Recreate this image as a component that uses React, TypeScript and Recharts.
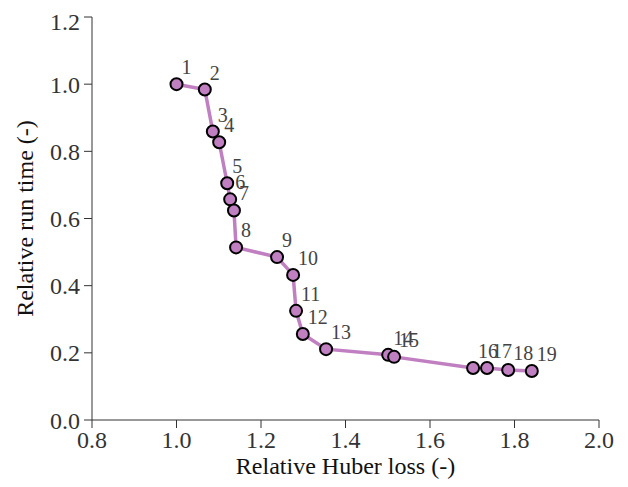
import React from 'react';
import { LineChart, Line, XAxis, YAxis, Label, LabelList } from 'recharts';

const pointLabels = ['1','2','3','4','5','6','7','8','9','10','11','12','13','14','15','16','17','18','19'];
const huberLoss = [1.0, 1.067, 1.086, 1.101, 1.12, 1.127, 1.136, 1.141, 1.238, 1.276, 1.283, 1.299, 1.354, 1.501, 1.515, 1.702, 1.735, 1.785, 1.841];
const runTime = [1.0, 0.984, 0.859, 0.827, 0.705, 0.657, 0.624, 0.514, 0.485, 0.432, 0.325, 0.256, 0.211, 0.194, 0.188, 0.155, 0.155, 0.149, 0.146];
const xTicks = [0.8, 1.0, 1.2, 1.4, 1.6, 1.8, 2.0];
const yTicks = [0.0, 0.2, 0.4, 0.6, 0.8, 1.0, 1.2];

const data = pointLabels.map((l, i) => ({ label: l, x: huberLoss[i], y: runTime[i] }));

const FONT = '"Liberation Serif", "DejaVu Serif", serif';
const LINE = '#c07fc0';
const AX = '#333333';

const PointLabel = (props: any) => {
  const { x, y, value } = props;
  return (
    <text x={x + 5} y={y - 10} fontFamily={FONT} fontSize={20} fill="#444" textAnchor="start">
      {value}
    </text>
  );
};

const XTitle = (props: any) => {
  const vb = props.viewBox || {};
  const cx = vb.x + vb.width / 2;
  const by = vb.y + vb.height - 13;
  return (
    <text x={cx} y={by} textAnchor="middle" fontFamily={FONT} fontSize={24} fill="#111">
      Relative Huber loss (-)
    </text>
  );
};

const YTitle = (props: any) => {
  const vb = props.viewBox || {};
  const cy = vb.y + vb.height / 2;
  const bx = 25;
  return (
    <text x={bx} y={cy} transform={`rotate(-90, ${bx}, ${cy})`} textAnchor="middle" fontFamily={FONT} fontSize={24} fill="#111">
      Relative run time (-)
    </text>
  );
};

export default function App() {
  return (
    <LineChart
      width={620}
      height={479}
      data={data}
      margin={{ top: 9, right: 29, bottom: 0, left: 0 }}
    >
      <XAxis
        type="number"
        dataKey="x"
        domain={[0.8, 2.0]}
        ticks={xTicks}
        tickFormatter={(v: number) => v.toFixed(1)}
        height={67}
        stroke={AX}
        tickSize={8}
        tickMargin={3}
        tick={{ fill: AX, fontFamily: FONT, fontSize: 24 }}
        allowDataOverflow
      >
        <Label content={XTitle} />
      </XAxis>
      <YAxis
        type="number"
        dataKey="y"
        domain={[0, 1.2]}
        ticks={yTicks}
        tickFormatter={(v: number) => v.toFixed(1)}
        width={84}
        stroke={AX}
        tickSize={8}
        tickMargin={4}
        tick={{ fill: AX, fontFamily: FONT, fontSize: 24 }}
        allowDataOverflow
      >
        <Label content={YTitle} />
      </YAxis>
      <Line
        type="linear"
        dataKey="y"
        stroke={LINE}
        strokeWidth={3.5}
        dot={{ r: 6, fill: LINE, stroke: '#000', strokeWidth: 2 }}
        isAnimationActive={false}
      >
        <LabelList dataKey="label" content={PointLabel} />
      </Line>
    </LineChart>
  );
}
